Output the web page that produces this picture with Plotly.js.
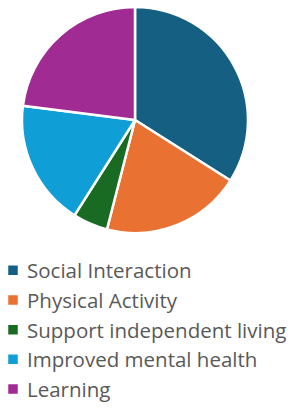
<!DOCTYPE html>
<html>
<head>
<meta charset="utf-8">
<script src="https://cdn.plot.ly/plotly-3.0.1.min.js"></script>
<style>html,body{margin:0;padding:0;background:#fff;}#chart{width:308px;height:410px;}</style>
</head>
<body>
<div id="chart"></div>
<script>
const categories = ["Social Interaction", "Physical Activity", "Support independent living", "Improved mental health", "Learning"];
const values = [34, 20, 5, 18, 23];
const colors = ["#156082", "#E97132", "#196B24", "#0F9ED5", "#A02B93"];

const trace = {
  type: "pie",
  labels: categories,
  values: values,
  sort: false,
  direction: "clockwise",
  rotation: 0,
  textinfo: "none",
  hoverinfo: "label+value",
  marker: {colors: colors, line: {color: "#ffffff", width: 2.5}},
  domain: {x: [22/308, 248/308], y: [1 - 233/410, 1 - 7/410]}
};

const layout = {
  width: 308, height: 410,
  margin: {l: 0, r: 0, t: 0, b: 0},
  paper_bgcolor: "#ffffff",
  showlegend: true,
  legend: {
    x: 0, xanchor: "left", y: 1 - 250.5/410, yanchor: "top",
    orientation: "v",
    font: {family: "Open Sans, sans-serif", size: 20.5, color: "#595959"},
    bgcolor: "rgba(0,0,0,0)",
    borderwidth: 0,
    traceorder: "normal"
  }
};

Plotly.newPlot("chart", [trace], layout, {displayModeBar: false, staticPlot: true}).then(function (gd) {
  // nudge the legend block left so text/symbols sit where the reference has them
  const lg = gd.querySelector("g.legend");
  if (lg) {
    const m = /translate\(([-\d.]+),\s*([-\d.]+)\)/.exec(lg.getAttribute("transform") || "");
    if (m) lg.setAttribute("transform", "translate(" + (parseFloat(m[1]) - 13) + "," + m[2] + ")");
    lg.querySelectorAll("g.legendpoints").forEach(function (p) {
      p.setAttribute("transform", "translate(6,0)");
    });
  }
});
</script>
</body>
</html>
